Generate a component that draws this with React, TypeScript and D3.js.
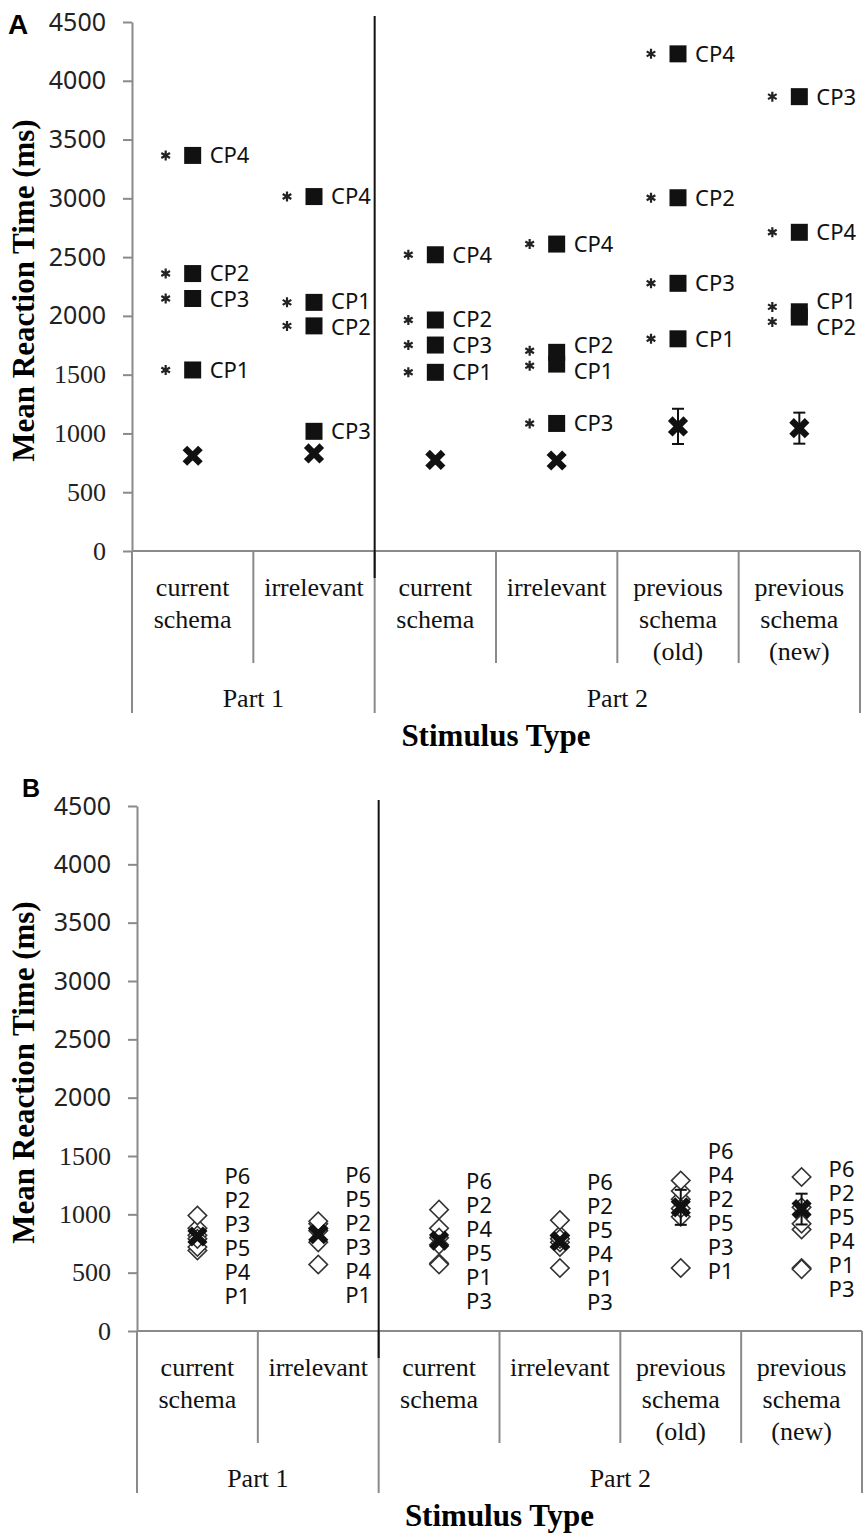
import React, { useRef, useEffect } from 'react';
import * as d3 from 'd3';

// category axis (two levels, like the Excel original)
const categoryLines = [
  ['current', 'schema'],
  ['irrelevant'],
  ['current', 'schema'],
  ['irrelevant'],
  ['previous', 'schema', '(old)'],
  ['previous', 'schema', '(new)'],
];
const partLabels = ['Part 1', 'Part 2'];
const partSizes = [2, 4];
const yTicks = [0, 500, 1000, 1500, 2000, 2500, 3000, 3500, 4000, 4500];

// panel A: patients CP1..CP4
const cpNames = ['CP1', 'CP2', 'CP3', 'CP4'];
const cp1 = [1540, 2115, 1520, 1590, 1805, 2035];
const cp2 = [2360, 1915, 1965, 1690, 3005, 1990];
const cp3 = [2148, 1018, 1752, 1085, 2277, 3865];
const cp4 = [3365, 3015, 2520, 2611, 4229, 2711];
// asterisk = significantly different from controls
const cp1Sig = [true, true, true, true, true, true];
const cp2Sig = [true, true, true, true, true, true];
const cp3Sig = [true, false, true, true, true, true];
const cp4Sig = [true, true, true, true, true, true];

// panel B: controls P1..P6
const pNames = ['P1', 'P2', 'P3', 'P4', 'P5', 'P6'];
const p1 = [690, 570, 580, 720, 540, 540];
const p2 = [880, 880, 880, 820, 1130, 1060];
const p3 = [820, 860, 570, 540, 980, 530];
const p4 = [720, 760, 800, 760, 1200, 870];
const p5 = [790, 920, 740, 790, 1050, 920];
const p6 = [990, 940, 1040, 950, 1290, 1320];

// control group mean and error (the X markers)
const groupMean = [810, 830, 775, 770, 1060, 1045];
const groupErr = [30, 30, 30, 30, 150, 132];

const W = 864;
const H = 1534;

const SERIF = "'Liberation Serif', 'Times New Roman', serif";
const SANS = "'Noto Sans', 'DejaVu Sans', sans-serif";

// push labels apart so they keep a minimum vertical gap
const spread = (ys, gap) => {
  const order = ys.map((_, i) => i).sort((a, b) => ys[a] - ys[b]);
  const out = ys.slice();
  for (let it = 0; it < 400; it++) {
    let moved = false;
    for (let k = 1; k < order.length; k++) {
      const a = order[k - 1], b = order[k];
      const d = out[b] - out[a];
      if (d < gap - 0.01) {
        const s = (gap - d) / 2;
        out[a] -= s;
        out[b] += s;
        moved = true;
      }
    }
    if (!moved) break;
  }
  return out;
};

const drawFrame = (svg, L, letter) => {
  const y = d3.scaleLinear().domain([0, 4500]).range([L.bottom, L.top]);
  const x = d3.scaleBand().domain(d3.range(categoryLines.length)).range([L.left, L.right]);
  const g = svg.append('g');

  // panel letter
  g.append('text')
    .attr('x', L.letterX)
    .attr('y', L.letterY)
    .style('font-family', "'Liberation Sans', Arial, sans-serif")
    .style('font-weight', 'bold')
    .style('font-size', `${L.letterSize}px`)
    .text(letter);

  // y axis
  const ax = g.append('g')
    .attr('transform', `translate(${L.left},0)`)
    .call(d3.axisLeft(y).tickValues(yTicks).tickSize(9).tickSizeOuter(0).tickPadding(17).tickFormat(d3.format('d')));
  ax.select('.domain').attr('stroke', '#8a8a8a').attr('stroke-width', 2);
  ax.selectAll('.tick line').attr('stroke', '#8a8a8a').attr('stroke-width', 2);
  ax.selectAll('.tick text')
    .attr('fill', '#222')
    .style('font-family', d => (d >= 2000 ? SANS : SERIF))
    .style('font-size', d => (d >= 2000 ? '25px' : '26px'));

  // y title
  g.append('text')
    .attr('transform', `translate(34,${(L.top + L.bottom) / 2 + 4}) rotate(-90)`)
    .attr('text-anchor', 'middle')
    .style('font-family', SERIF)
    .style('font-weight', 'bold')
    .style('font-size', '31px')
    .text('Mean Reaction Time (ms)');

  // x axis line
  g.append('line')
    .attr('x1', L.left).attr('x2', L.right)
    .attr('y1', L.bottom).attr('y2', L.bottom)
    .attr('stroke', '#8a8a8a').attr('stroke-width', 2);

  // category dividers
  const bounds = d3.range(categoryLines.length + 1).map(i =>
    i < categoryLines.length ? x(i) : L.right);
  const partEdges = [0, ...d3.cumsum(partSizes)];
  bounds.forEach((bx, i) => {
    const major = partEdges.includes(i);
    g.append('line')
      .attr('x1', bx).attr('x2', bx)
      .attr('y1', L.bottom).attr('y2', L.bottom + (major ? 162 : 112))
      .attr('stroke', '#8a8a8a').attr('stroke-width', 2);
  });

  // category text
  categoryLines.forEach((lines, i) => {
    lines.forEach((t, j) => {
      g.append('text')
        .attr('x', x(i) + x.bandwidth() / 2)
        .attr('y', L.bottom + 36 + j * 32)
        .attr('dy', '0.33em')
        .attr('text-anchor', 'middle')
        .attr('fill', '#111')
        .style('font-family', SERIF)
        .style('font-size', '26px')
        .text(t);
    });
  });

  partLabels.forEach((t, i) => {
    const a = bounds[partEdges[i]], b = bounds[partEdges[i + 1]];
    g.append('text')
      .attr('x', (a + b) / 2)
      .attr('y', L.bottom + 147)
      .attr('dy', '0.33em')
      .attr('text-anchor', 'middle')
      .attr('fill', '#111')
      .style('font-family', SERIF)
      .style('font-size', '26px')
      .text(t);
  });

  g.append('text')
    .attr('x', (L.left + L.right) / 2)
    .attr('y', L.bottom + 186)
    .attr('dy', '0.3em')
    .attr('text-anchor', 'middle')
    .style('font-family', SERIF)
    .style('font-weight', 'bold')
    .style('font-size', '31px')
    .text('Stimulus Type');

  // Part 1 / Part 2 separator through the plot
  const sep = bounds[partEdges[1]];
  g.append('line')
    .attr('x1', sep).attr('x2', sep)
    .attr('y1', L.top - 6).attr('y2', L.bottom + 27)
    .attr('stroke', '#111').attr('stroke-width', 2);

  return { x, y, g, cx: i => x(i) + x.bandwidth() / 2 };
};

const drawMeans = (g, cx, y) => {
  const xMark = d3.symbol(d3.symbolX, 160)();
  groupMean.forEach((m, i) => {
    const c = cx(i);
    const lo = y(m - groupErr[i]), hi = y(m + groupErr[i]);
    const eb = g.append('g').attr('stroke', '#111').attr('stroke-width', 2);
    eb.append('line').attr('x1', c).attr('x2', c).attr('y1', lo).attr('y2', hi);
    eb.append('line').attr('x1', c - 6).attr('x2', c + 6).attr('y1', lo).attr('y2', lo);
    eb.append('line').attr('x1', c - 6).attr('x2', c + 6).attr('y1', hi).attr('y2', hi);
    g.append('path')
      .attr('d', xMark)
      .attr('transform', `translate(${c},${y(m)})`)
      .attr('fill', 'none')
      .attr('stroke', '#111')
      .attr('stroke-width', 6.5);
  });
};

const App = () => {
  const ref = useRef(null);

  useEffect(() => {
    const svg = d3.select(ref.current);
    svg.selectAll('*').remove();

    // ---- Panel A ----
    const A = drawFrame(svg, { top: 22, bottom: 551, left: 132, right: 860, letterX: 8, letterY: 34, letterSize: 28 }, 'A');
    const cpSeries = [cp1, cp2, cp3, cp4];
    const cpSig = [cp1Sig, cp2Sig, cp3Sig, cp4Sig];
    drawMeans(A.g, A.cx, A.y);
    const sq = d3.symbol(d3.symbolSquare, 289)();
    const star = d3.symbol(d3.symbolAsterisk, 70)();
    categoryLines.forEach((_, i) => {
      const c = A.cx(i);
      const ys = cpSeries.map(s => A.y(s[i]));
      const labelY = spread(ys, 26);
      const sigIdx = cpSig.map((s, k) => (s[i] ? k : -1)).filter(k => k >= 0);
      const starY = spread(sigIdx.map(k => ys[k]), 15);
      sigIdx.forEach((k, j) => {
        A.g.append('path')
          .attr('d', star)
          .attr('transform', `translate(${c - 27},${starY[j]})`)
          .attr('fill', 'none')
          .attr('stroke', '#222')
          .attr('stroke-width', 2.2);
      });
      cpSeries.forEach((s, k) => {
        A.g.append('path')
          .attr('d', sq)
          .attr('transform', `translate(${c},${ys[k]})`)
          .attr('fill', '#111');
        A.g.append('text')
          .attr('x', c + 17)
          .attr('y', labelY[k])
          .attr('dy', '0.36em')
          .attr('fill', '#111')
          .style('font-family', SANS)
          .style('font-size', '22px')
          .text(cpNames[k]);
      });
    });

    // ---- Panel B ----
    const B = drawFrame(svg, { top: 806, bottom: 1331, left: 137, right: 862, letterX: 22, letterY: 797, letterSize: 25 }, 'B');
    const pSeries = [p1, p2, p3, p4, p5, p6];
    const dia = d3.symbol(d3.symbolSquare, 170)();
    categoryLines.forEach((_, i) => {
      const c = B.cx(i);
      const ys = pSeries.map(s => B.y(s[i]));
      const labelY = spread(ys, 24);
      pSeries.forEach((s, k) => {
        B.g.append('path')
          .attr('d', dia)
          .attr('transform', `translate(${c},${ys[k]}) rotate(45)`)
          .attr('fill', '#fff')
          .attr('stroke', '#333')
          .attr('stroke-width', 1.6);
        B.g.append('text')
          .attr('x', c + 27)
          .attr('y', labelY[k])
          .attr('dy', '0.36em')
          .attr('fill', '#111')
          .style('font-family', SANS)
          .style('font-size', '22px')
          .text(pNames[k]);
      });
    });
    drawMeans(B.g, B.cx, B.y);
  }, []);

  return (
    <svg
      ref={ref}
      width={W}
      height={H}
      style={{ position: 'absolute', left: 0, top: 0, background: '#fff' }}
    />
  );
};

export default App;
